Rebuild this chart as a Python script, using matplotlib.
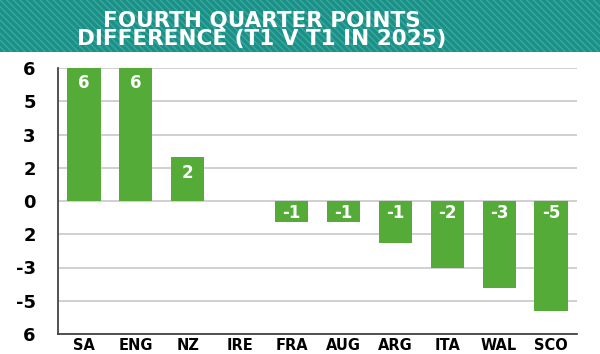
import matplotlib
matplotlib.use("Agg")
import matplotlib.pyplot as plt
from matplotlib.patches import Rectangle

teams = ["SA", "ENG", "NZ", "IRE", "FRA", "AUG", "ARG", "ITA", "WAL", "SCO"]
values = [6.4, 6.4, 2.1, 0.0, -1.0, -1.0, -2.0, -3.2, -4.2, -5.3]
bar_labels = ["6", "6", "2", "", "-1", "-1", "-1", "-2", "-3", "-5"]
tick_values = [6.4, 4.8, 3.2, 1.6, 0.0, -1.6, -3.2, -4.8, -6.4]
tick_labels = ["6", "5", "3", "2", "0", "2", "-3", "-5", "6"]
title = "FOURTH QUARTER POINTS\nDIFFERENCE (T1 V T1 IN 2025)"

GREEN = "#55ab38"
NARROW = ["DejaVu Sans"]
plt.rcParams["hatch.linewidth"] = 1.0

fig = plt.figure(figsize=(6.0, 3.54), dpi=100)
fig.patch.set_facecolor("white")

# header band
hdr = fig.add_axes([0, 1 - 52 / 354, 1, 52 / 354])
hdr.set_xlim(0, 1)
hdr.set_ylim(0, 1)
hdr.axis("off")
hdr.add_patch(Rectangle((0, 0), 1, 1, facecolor="#1c8f87", edgecolor="#37a99f",
                        hatch="\\\\\\\\\\", linewidth=0))
hdr.text(0.436, 0.42, title, ha="center", va="center", color="white",
         fontsize=15.5, fontweight="heavy", family="DejaVu Sans",
         linespacing=0.85)

ax = fig.add_axes([58 / 600, 20 / 354, 519 / 600, 266 / 354])
x = list(range(len(teams)))
ax.bar(x, values, width=0.64, color=GREEN, zorder=3)
ax.set_xlim(-0.5, len(teams) - 0.5)
ax.set_ylim(-6.4, 6.4)
ax.set_yticks(tick_values)
ax.set_yticklabels(tick_labels, fontsize=13, fontweight="bold", family=NARROW)
ax.set_xticks(x)
ax.set_xticklabels(teams, fontsize=10.5, fontweight="heavy", family="DejaVu Sans")
ax.tick_params(axis="y", length=0, pad=16)
ax.tick_params(axis="x", length=0, pad=3)
ax.grid(axis="y", color="#c8c8c8", linewidth=1.2, zorder=0)
for s in ["top", "right"]:
    ax.spines[s].set_visible(False)
ax.spines["left"].set_color("#444444")
ax.spines["bottom"].set_color("#444444")
ax.spines["left"].set_linewidth(1.3)
ax.spines["bottom"].set_linewidth(1.3)

for xi, v, lab in zip(x, values, bar_labels):
    if not lab:
        continue
    if v > 0:
        ax.annotate(lab, (xi, v), xytext=(0, -11), textcoords="offset points",
                    ha="center", va="center", color="white", fontsize=12,
                    fontweight="bold", family=NARROW)
    else:
        ax.annotate(lab, (xi, 0), xytext=(0, -9), textcoords="offset points",
                    ha="center", va="center", color="white", fontsize=12,
                    fontweight="bold", family=NARROW)

fig.savefig("out.png", dpi=100)
